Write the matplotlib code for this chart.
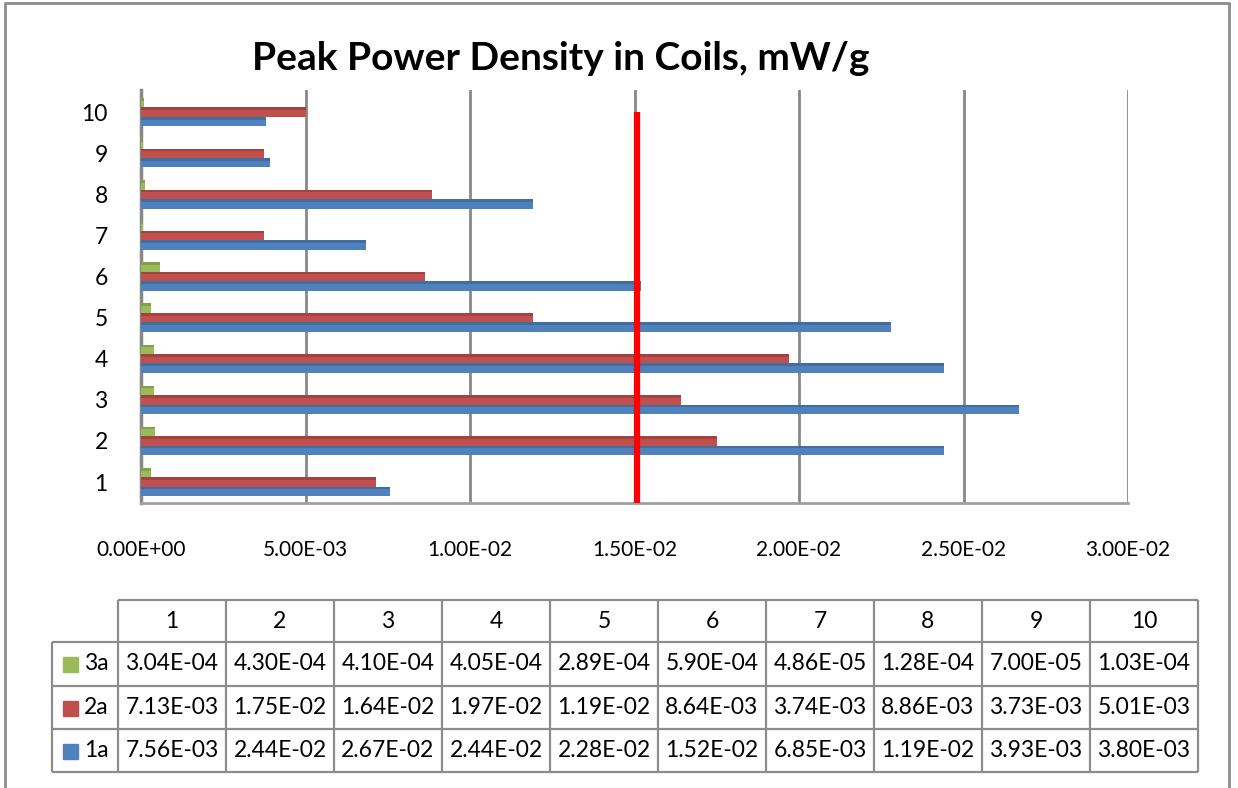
import numpy as np
import matplotlib
matplotlib.use('Agg')
import matplotlib.pyplot as plt

plt.rcParams['font.family'] = ['Lato', 'DejaVu Sans']

categories = ['1', '2', '3', '4', '5', '6', '7', '8', '9', '10']
series_names = ['3a', '2a', '1a']
s3a = [3.04e-4, 4.30e-4, 4.10e-4, 4.05e-4, 2.89e-4, 5.90e-4, 4.86e-5, 1.28e-4, 7.00e-5, 1.03e-4]
s2a = [7.13e-3, 1.75e-2, 1.64e-2, 1.97e-2, 1.19e-2, 8.64e-3, 3.74e-3, 8.86e-3, 3.73e-3, 5.01e-3]
s1a = [7.56e-3, 2.44e-2, 2.67e-2, 2.44e-2, 2.28e-2, 1.52e-2, 6.85e-3, 1.19e-2, 3.93e-3, 3.80e-3]
threshold = 0.015
xticks = [0, 0.005, 0.010, 0.015, 0.020, 0.025, 0.030]
xtick_labels = ['0.00E+00', '5.00E-03', '1.00E-02', '1.50E-02', '2.00E-02', '2.50E-02', '3.00E-02']
table_text = {
    '3a': ['3.04E-04', '4.30E-04', '4.10E-04', '4.05E-04', '2.89E-04', '5.90E-04', '4.86E-05', '1.28E-04', '7.00E-05', '1.03E-04'],
    '2a': ['7.13E-03', '1.75E-02', '1.64E-02', '1.97E-02', '1.19E-02', '8.64E-03', '3.74E-03', '8.86E-03', '3.73E-03', '5.01E-03'],
    '1a': ['7.56E-03', '2.44E-02', '2.67E-02', '2.44E-02', '2.28E-02', '1.52E-02', '6.85E-03', '1.19E-02', '3.93E-03', '3.80E-03'],
}

colors = {'1a': '#4F81BD', '2a': '#C0504D', '3a': '#9BBB59'}
dark = {'1a': '#385D8A', '2a': '#8C3836', '3a': '#71893F'}
grid_gray = '#888888'

W, H = 1238, 788
fig = plt.figure(figsize=(W / 100, H / 100), dpi=100)

# overlay in pixel coords for frame + table
tab = fig.add_axes([0, 0, 1, 1])
tab.set_xlim(0, W)
tab.set_ylim(H, 0)
tab.axis('off')
tab.plot([5, 5, 1229, 1229], [H + 5, 3, 3, H + 5], color='#8c8c8c', lw=2)

# main bar axes
ax = fig.add_axes([141 / W, (H - 503) / H, 987 / W, 413 / H])
ax.patch.set_alpha(0)
y = np.arange(1, 11)
bh = 0.23
offsets = {'1a': -bh, '2a': 0.0, '3a': bh}
vals = {'1a': s1a, '2a': s2a, '3a': s3a}
for name in ['1a', '2a', '3a']:
    ax.barh(y + offsets[name], vals[name], height=bh, color=colors[name], zorder=3)
    ax.barh(y + offsets[name] + bh * 0.36, vals[name], height=bh * 0.28,
            color=dark[name], alpha=0.55, zorder=3, linewidth=0)

ax.vlines(threshold + 0.00007, 0.49, 10, color='#FF0000', lw=4.5, zorder=5)

ax.set_xlim(0, 0.03)
ax.set_ylim(0.49, 10.54)
ax.set_xticks(xticks)
ax.set_xticklabels(xtick_labels, fontsize=15)
ax.set_yticks(y)
ax.set_yticklabels(categories, fontsize=16.5)
ax.tick_params(axis='x', length=0, pad=27)
ax.tick_params(axis='y', length=0, pad=24)
ax.grid(axis='x', color=grid_gray, lw=2, zorder=1)
for s in ['top', 'right']:
    ax.spines[s].set_visible(False)
ax.spines['left'].set_color(grid_gray)
ax.spines['left'].set_linewidth(2.5)
ax.spines['bottom'].set_color('#a0a0a0')
ax.spines['bottom'].set_linewidth(2)

fig.text(561 / W, 1 - 58 / H, 'Peak Power Density in Coils, mW/g',
         ha='center', va='center', fontsize=28, fontweight='bold')

# data table
col_edges = [118 + 108 * i for i in range(11)]
row_edges = [600, 642, 686, 729, 772]
lc = '#8c8c8c'
tab.hlines(row_edges[0], col_edges[0], col_edges[-1], color=lc, lw=1.6)
for r in row_edges[1:]:
    tab.hlines(r, 52, col_edges[-1], color=lc, lw=1.6)
tab.vlines(52, row_edges[1], row_edges[-1], color=lc, lw=1.6)
for c in col_edges:
    tab.vlines(c, row_edges[0], row_edges[-1], color=lc, lw=1.6)

for i, cat in enumerate(categories):
    cx = (col_edges[i] + col_edges[i + 1]) / 2
    tab.text(cx, (row_edges[0] + row_edges[1]) / 2, cat, ha='center', va='center', fontsize=16.5)
for j, name in enumerate(series_names):
    cy = (row_edges[j + 1] + row_edges[j + 2]) / 2
    tab.add_patch(plt.Rectangle((63, cy - 7), 15, 15, color=colors[name]))
    tab.text(84, cy, name, ha='left', va='center', fontsize=16.5)
    for i, txt in enumerate(table_text[name]):
        cx = (col_edges[i] + col_edges[i + 1]) / 2
        tab.text(cx, cy, txt, ha='center', va='center', fontsize=16.5)

fig.savefig('out.png', dpi=100)
